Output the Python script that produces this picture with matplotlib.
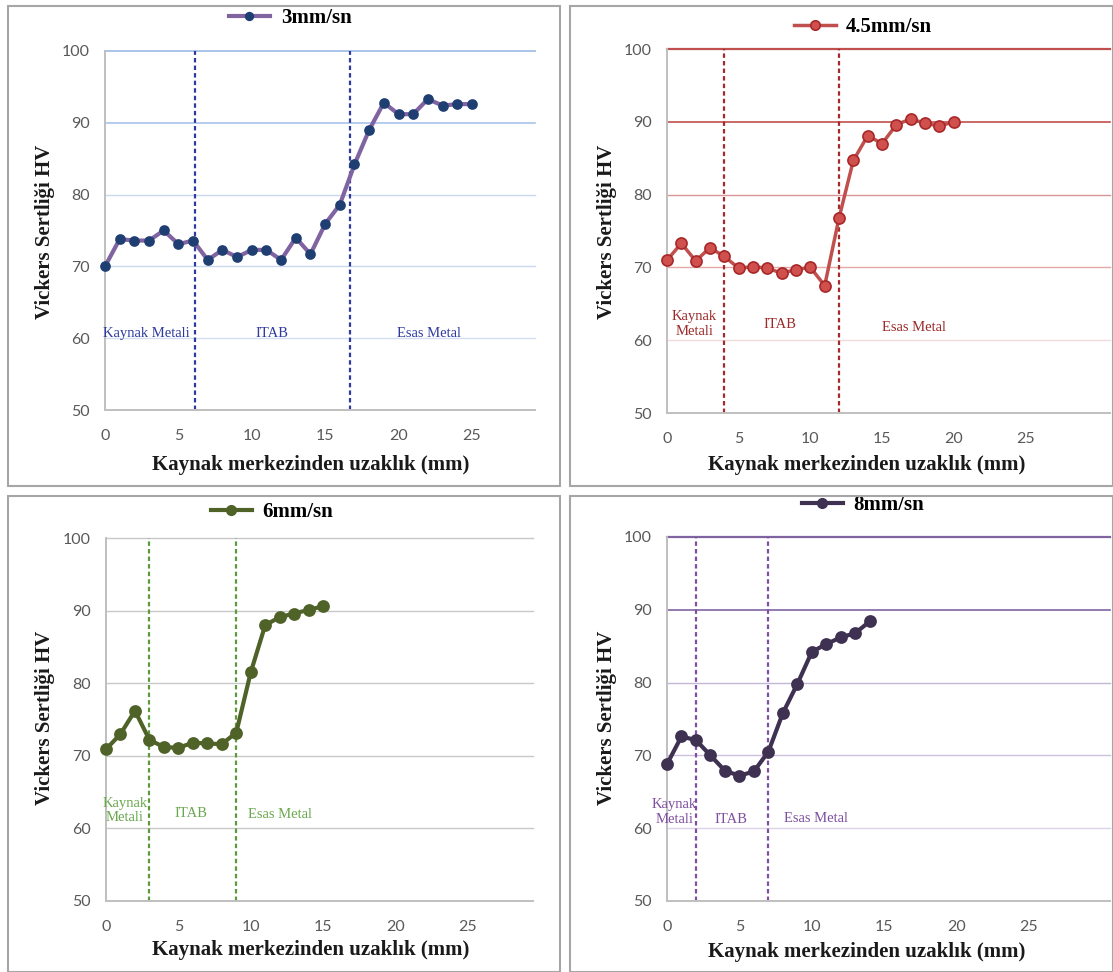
import matplotlib.pyplot as plt
from matplotlib.patches import Rectangle

W, H = 1113, 972

# distance from weld centre (mm), hardness HV
x_3 = list(range(26))
hv_3 = [70.0, 73.8, 73.6, 73.6, 75.0, 73.1, 73.6, 70.9, 72.3, 71.3, 72.3, 72.3, 70.9,
        74.0, 71.7, 75.9, 78.6, 84.2, 89.0, 92.8, 91.2, 91.2, 93.3, 92.4, 92.6, 92.6]
x_45 = list(range(21))
hv_45 = [71.0, 73.3, 70.9, 72.7, 71.5, 69.9, 70.1, 69.9, 69.2, 69.7, 70.0, 67.5,
         76.8, 84.7, 88.1, 87.0, 89.6, 90.4, 89.8, 89.4, 90.0]
x_6 = list(range(16))
hv_6 = [70.9, 73.0, 76.2, 72.2, 71.2, 71.1, 71.8, 71.7, 71.6, 73.2, 81.5, 88.0,
        89.1, 89.6, 90.1, 90.6]
x_8 = list(range(15))
hv_8 = [68.8, 72.6, 72.1, 70.0, 67.9, 67.2, 67.8, 70.5, 75.8, 79.8, 84.2, 85.3,
        86.2, 86.8, 88.4]

labels = ['3mm/sn', '4.5mm/sn', '6mm/sn', '8mm/sn']
zones = [[6.1, 16.7], [4, 12], [3, 9], [2, 7]]
yticks = [50, 60, 70, 80, 90, 100]
xticks = [0, 5, 10, 15, 20, 25]


def px(x, y):
    return x / W, 1 - y / H


fig = plt.figure(figsize=(W / 100, H / 100), dpi=100)

# panel frames
for (x0, y0, x1, y1) in [(8, 6, 560, 486), (570, 6, 1113, 486),
                         (8, 496, 560, 972), (570, 496, 1113, 972)]:
    fig.patches.append(Rectangle(px(x0, y1), (x1 - x0) / W, (y1 - y0) / H,
                                 transform=fig.transFigure, fill=False,
                                 edgecolor='#A6A6A6', lw=1.5))

panels = [
    dict(box=(105, 51, 535, 410), xmax=29.3, x=x_3, y=hv_3, line='#8064A2', lw=3,
         mfc='#1F3F73', mec='#1F3F73', ms=6.5, vcol='#2E3A9E', tcol='#2E3A9E',
         grid=[('#D3DEF1', 1.0), ('#C9D7EF', 1.0), ('#C9D7EF', 1.0), ('#A9C4EB', 1.2), ('#A9C4EB', 1.4)],
         leg=(290, 18), ylab=(45, 232), xlab=(311, 465),
         txt=[(2.8, 60.7, 'Kaynak Metali'), (11.4, 60.7, 'ITAB'), (22.1, 60.7, 'Esas Metal')]),
    dict(box=(667, 49, 1110, 413), xmax=30.9, x=x_45, y=hv_45, line='#C0504D', lw=2.5,
         mfc='#D0504D', mec='#A8282A', ms=8, vcol='#A52A2A', tcol='#9B2A2A',
         grid=[('#F2DCDB', 1.0), ('#E3A9A7', 1.0), ('#D99694', 1.0), ('#C0504D', 1.2), ('#C0504D', 1.6)],
         leg=(863, 27), ylab=(607, 232), xlab=(867, 465),
         txt=[(1.9, 62.2, 'Kaynak\nMetali'), (7.9, 62.1, 'ITAB'), (17.2, 61.7, 'Esas Metal')]),
    dict(box=(106, 538, 533, 901), xmax=29.5, x=x_6, y=hv_6, line='#4F6228', lw=3,
         mfc='#4F6228', mec='#4F6228', ms=8, vcol='#5B9B3C', tcol='#6AA84F',
         grid=[('#C8C8C8', 1.0)] * 5,
         leg=(272, 512), ylab=(45, 718), xlab=(311, 950),
         txt=[(1.3, 62.5, 'Kaynak\nMetali'), (5.9, 62.0, 'ITAB'), (12.0, 61.9, 'Esas Metal')]),
    dict(box=(667, 537, 1110, 901), xmax=30.6, x=x_8, y=hv_8, line='#3F3151', lw=3,
         mfc='#3F3151', mec='#3F3151', ms=8, vcol='#7E4F9E', tcol='#7E4F9E',
         grid=[('#DCD3E8', 1.0), ('#CDBFE0', 1.0), ('#C3B5D6', 1.0), ('#8064A2', 1.2), ('#8064A2', 1.6)],
         leg=(863, 505), ylab=(607, 718), xlab=(867, 952),
         txt=[(0.5, 62.2, 'Kaynak\nMetali'), (4.4, 61.2, 'ITAB'), (10.3, 61.4, 'Esas Metal')]),
]

serif = 'Liberation Serif'

for p, lab, zn in zip(panels, labels, zones):
    l, t, r, b = p['box']
    ax = fig.add_axes([l / W, 1 - b / H, (r - l) / W, (b - t) / H])
    ax.set_xlim(0, p['xmax'])
    ax.set_ylim(50, 100)
    for val, (gc, glw) in zip(yticks[1:], p['grid']):
        ax.axhline(val, color=gc, lw=glw, zorder=1, clip_on=False)
    for v in zn:
        ax.axvline(v, color=p['vcol'], lw=1.6, ls=(0, (2, 1.4)), zorder=2)
    ax.plot(p['x'], p['y'], color=p['line'], lw=p['lw'], marker='o', ms=p['ms'],
            mfc=p['mfc'], mec=p['mec'], mew=1.2, zorder=3, label=lab, clip_on=False)
    for tx, ty, s in p['txt']:
        ax.text(tx, ty, s, ha='center', va='center', color=p['tcol'],
                fontsize=10.5, family=serif, linespacing=1.15, zorder=4)
    for side in ['top', 'right']:
        ax.spines[side].set_visible(False)
    for side in ['left', 'bottom']:
        ax.spines[side].set_color('#BFBFBF')
        ax.spines[side].set_linewidth(1.4)
    ax.set_xticks(xticks)
    ax.set_yticks(yticks)
    ax.tick_params(length=0, labelsize=11.5, labelcolor='#595959')
    ax.tick_params(axis='x', pad=14)
    ax.tick_params(axis='y', pad=11)
    for tl in ax.get_xticklabels() + ax.get_yticklabels():
        tl.set_family('Lato')
    ax.legend(loc='center', bbox_to_anchor=px(*p['leg']), bbox_transform=fig.transFigure,
              frameon=False, handlelength=2.0, handletextpad=0.5, markerscale=0.85,
              prop=dict(family=serif, weight='bold', size=15))
    fig.text(*px(*p['ylab']), 'Vickers Sertliği HV', rotation=90, ha='center', va='center',
             family=serif, weight='bold', fontsize=15, color='#1a1a1a')
    fig.text(*px(*p['xlab']), 'Kaynak merkezinden uzaklık (mm)', ha='center', va='center',
             family=serif, weight='bold', fontsize=15, color='#1a1a1a')

fig.savefig('out.png', dpi=100)
